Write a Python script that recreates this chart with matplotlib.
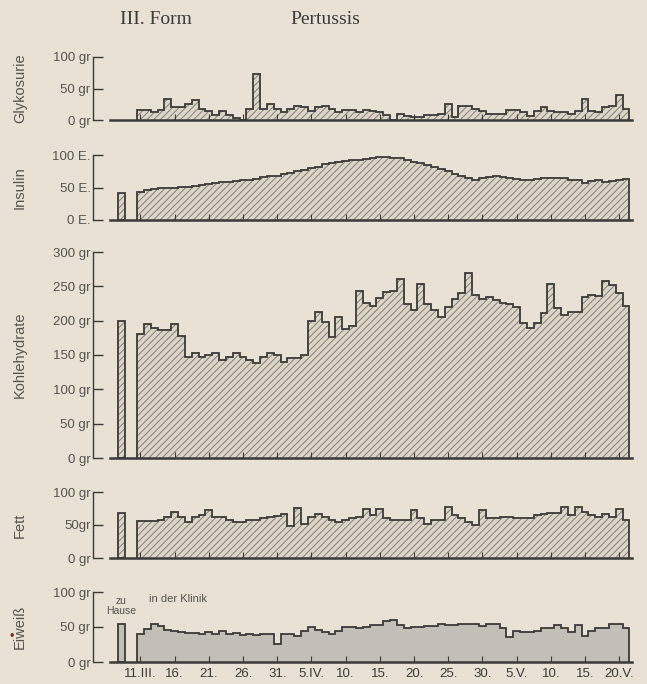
import numpy as np
import matplotlib
matplotlib.use("Agg")
import matplotlib.pyplot as plt

# daily values in the clinic, 11.III. - 21.V. (72 days)
glykosurie = [16, 16, 13, 16, 34, 20, 20, 25, 32, 18, 15, 8, 15, 8, 3, 0,
              17, 73, 18, 25, 18, 12, 18, 22, 20, 15, 20, 23, 18, 12, 16, 16,
              12, 16, 14, 12, 8, 0, 10, 7, 5, 5, 8, 8, 10, 25, 5, 22,
              22, 17, 15, 10, 10, 10, 16, 16, 12, 7, 15, 20, 15, 12, 12, 10,
              15, 33, 15, 12, 20, 22, 40, 18]
insulin = [43, 46, 47, 49, 50, 50, 51, 51, 52, 54, 55, 57, 58, 59, 60, 61,
           62, 63, 66, 67, 68, 71, 73, 75, 77, 80, 82, 86, 88, 90, 91, 92,
           93, 94, 96, 97, 97, 96, 95, 92, 90, 88, 85, 82, 79, 75, 71, 68,
           64, 62, 64, 66, 67, 66, 65, 63, 62, 62, 63, 64, 64, 65, 64, 62,
           61, 57, 60, 61, 59, 60, 62, 63]
kohlehydrate = [180, 195, 189, 186, 186, 195, 177, 147, 153, 147, 150, 153,
                142, 147, 153, 147, 142, 138, 147, 153, 150, 140, 145, 145,
                150, 200, 212, 198, 176, 205, 188, 192, 243, 226, 222, 233,
                242, 243, 261, 225, 215, 254, 225, 215, 205, 220, 232, 240,
                270, 237, 232, 235, 230, 226, 224, 220, 197, 190, 197, 211,
                254, 218, 208, 213, 213, 235, 237, 236, 258, 252, 240, 222]
fett = [56, 56, 56, 57, 62, 70, 62, 55, 62, 65, 73, 62, 62, 58, 55, 55,
        57, 58, 60, 62, 64, 67, 48, 76, 52, 62, 67, 62, 58, 55, 58, 60,
        62, 75, 65, 75, 60, 57, 58, 58, 72, 60, 52, 58, 58, 77, 65, 60,
        55, 50, 72, 60, 60, 62, 62, 60, 60, 60, 65, 66, 68, 68, 77, 65,
        77, 70, 65, 62, 66, 62, 74, 57]
eiweiss = [40, 47, 54, 52, 46, 45, 43, 42, 42, 40, 43, 40, 44, 40, 42, 38,
           40, 38, 40, 40, 26, 40, 40, 37, 45, 50, 46, 43, 40, 45, 50, 50,
           48, 50, 53, 53, 58, 60, 53, 48, 50, 50, 51, 51, 55, 53, 53, 55,
           55, 54, 51, 54, 54, 49, 36, 44, 43, 43, 45, 48, 48, 53, 48, 43,
           53, 37, 44, 48, 48, 55, 55, 48]

# one value brought from home ("zu Hause") before admission
home = {"Glykosurie": None, "Insulin": 42, "Kohlehydrate": 200,
        "Fett": 68, "Eiweiß": 55}

date_labels = ["11.III.", "16.", "21.", "26.", "31.", "5.IV.", "10.", "15.",
               "20.", "25.", "30.", "5.V.", "10.", "15.", "20.V."]

BG = "#e9e2d4"
INK = "#3a3a3a"
LABEL = "#555250"
HATCH = "#858078"
FACE = "#ddd6c8"
SOLID = "#c3bfb7"
HOME_X = -2.8

plt.rcParams["font.family"] = ["Liberation Sans", "DejaVu Sans"]
plt.rcParams["hatch.linewidth"] = 0.7

fig = plt.figure(figsize=(6.47, 6.84), dpi=100, facecolor=BG)
W, H = 647.0, 684.0


def px_axes(top, bottom):
    # left/right in pixels are shared by all panels
    return fig.add_axes([110 / W, 1 - bottom / H, 522 / W, (bottom - top) / H])


panels = [
    ("Glykosurie", glykosurie, 100, [0, 50, 100], ["0 gr", "50 gr", "100 gr"], 57, 120),
    ("Insulin", insulin, 100, [0, 50, 100], ["0 E.", "50 E.", "100 E."], 155, 220),
    ("Kohlehydrate", kohlehydrate, 300, list(range(0, 301, 50)),
     [f"{v} gr" for v in range(0, 301, 50)], 252, 458),
    ("Fett", fett, 100, [0, 50, 100], ["0 gr", "50gr", "100 gr"], 492, 558),
    ("Eiweiß", eiweiss, 100, [0, 50, 100], ["0 gr", "50 gr", "100 gr"], 592, 662),
]

n_days = len(kohlehydrate)
edges = np.arange(n_days + 1)
xticks = np.arange(0, n_days, 5) + 0.5

for name, vals, top, yt, ytl, ptop, pbot in panels:
    ax = px_axes(ptop, pbot)
    ax.set_facecolor("none")
    ax.set_xlim(-3.95, 72.37)
    ax.set_ylim(0, top)

    solid = name == "Eiweiß"
    if solid:
        ax.stairs(vals, edges, baseline=0, fill=True, facecolor=SOLID,
                  linewidth=0)
    else:
        ax.stairs(vals, edges, baseline=0, fill=True, facecolor=FACE,
                  edgecolor=HATCH, hatch="/////", linewidth=0)
    ax.stairs(vals, edges, baseline=0, fill=False, color=INK, linewidth=1.3)

    hv = home[name]
    if hv is not None:
        if solid:
            ax.bar(HOME_X, hv, width=1.0, align="edge", color=SOLID,
                   linewidth=0)
        else:
            ax.bar(HOME_X, hv, width=1.0, align="edge", color=FACE,
                   edgecolor=HATCH, hatch="/////", linewidth=0)
        ax.bar(HOME_X, hv, width=1.0, align="edge", fill=False,
               edgecolor=INK, linewidth=1.3)

    for s in ("top", "right"):
        ax.spines[s].set_visible(False)
    ax.spines["left"].set_position(("outward", 12))
    ax.spines["left"].set_bounds(0, top)
    ax.spines["left"].set_color(INK)
    ax.spines["left"].set_linewidth(1.0)
    ax.spines["bottom"].set_color(INK)
    ax.spines["bottom"].set_linewidth(1.8)

    ax.set_yticks(yt)
    ax.set_yticklabels(ytl)
    ax.tick_params(axis="y", direction="in", length=7, width=1.0,
                   colors=INK, labelsize=9.5, pad=2)
    ax.tick_params(axis="y", labelcolor=LABEL)
    ax.set_xticks(xticks)
    ax.tick_params(axis="x", direction="in", length=4, width=0.8,
                   colors=INK, labelsize=9.5, pad=4)
    ax.tick_params(axis="x", labelcolor=INK)
    if name == "Eiweiß":
        ax.set_xticklabels(date_labels)
    else:
        ax.set_xticklabels([])

    fig.text(20 / W, 1 - (ptop + pbot) / 2 / H, name, rotation=90,
             ha="center", va="center", fontsize=10.5, color=LABEL)

    if name == "Eiweiß":
        ax.text(HOME_X + 0.5, 95, "zu\nHause", ha="center", va="top",
                fontsize=7.5, color=LABEL, linespacing=1.05)
        ax.text(1.8, 97, "in der Klinik", ha="left", va="top",
                fontsize=8, color=LABEL)

serif = ["Liberation Serif", "DejaVu Serif"]
fig.text(120 / W, 1 - 19 / H, "III. Form", fontsize=14, color=INK,
         family=serif, va="center")
fig.text(290 / W, 1 - 19 / H, "Pertussis", fontsize=14, color=INK,
         family=serif, va="center")
fig.text(12 / W, 1 - 637 / H, "•", fontsize=9, color="#7a2a22",
         ha="center", va="center")

fig.savefig("out.png", dpi=100, facecolor=BG)
